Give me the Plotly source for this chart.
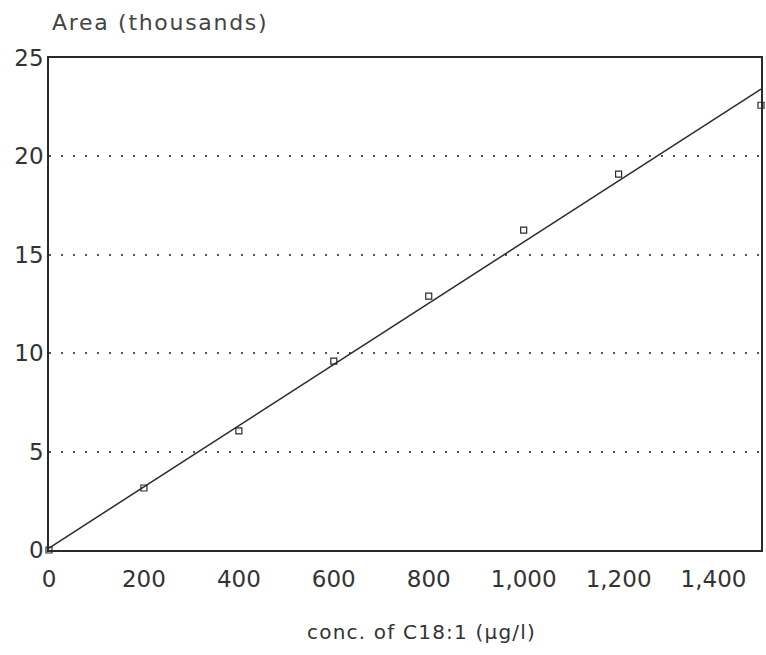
import plotly.graph_objects as go

# Data
conc = [0, 200, 400, 600, 800, 1000, 1200, 1500]
area = [0.0, 3.15, 6.05, 9.6, 12.9, 16.25, 19.1, 22.6]
fit_x = [0, 1500]
fit_y = [0.1, 23.42]
y_ticks = [0, 5, 10, 15, 20, 25]
x_ticks = [0, 200, 400, 600, 800, 1000, 1200, 1400]
x_tick_text = ["0", "200", "400", "600", "800", "1,000", "1,200", "1,400"]

FONT = "DejaVu Sans"
INK = "#2a2a2a"

fig = go.Figure()
fig.add_trace(go.Scatter(
    x=fit_x, y=fit_y, mode="lines",
    line=dict(color=INK, width=1.5), showlegend=False, hoverinfo="skip"))
fig.add_trace(go.Scatter(
    x=conc, y=area, mode="markers",
    marker=dict(symbol="square-open", size=6, color=INK, line=dict(width=1.2, color=INK)),
    showlegend=False, cliponaxis=False))

fig.update_layout(
    width=766, height=655,
    margin=dict(l=49, r=3, t=58, b=105),
    paper_bgcolor="white", plot_bgcolor="white",
    font=dict(family=FONT, color=INK),
    xaxis=dict(
        range=[0, 1500], tickvals=x_ticks, ticktext=x_tick_text,
        showgrid=False, zeroline=False, showline=True, linecolor=INK, linewidth=1.5,
        mirror=True, ticks="", tickfont=dict(size=23, family=FONT, color="#333"),
        ticklabelstandoff=8,
    ),
    yaxis=dict(
        range=[0, 25], tickvals=y_ticks,
        showgrid=True, gridcolor="#555", gridwidth=1.5, griddash="2px,10px",
        zeroline=False, showline=True, linecolor=INK, linewidth=1.5,
        mirror=True, ticks="", tickfont=dict(size=23, family=FONT, color="#333"),
        ticklabelstandoff=-1,
    ),
    annotations=[
        dict(text='<span style="letter-spacing:1.7px">Area (thousands)</span>',
             xref="paper", yref="paper",
             x=0.002, y=1.073, xanchor="left", yanchor="middle", showarrow=False,
             font=dict(size=22, family=FONT, color="#444")),
        dict(text='<span style="letter-spacing:1.2px">conc. of C18:1 (μg/l)</span>',
             xref="paper", yref="paper",
             x=(423 - 49) / 714, y=-(632 - 550) / 492, xanchor="center", yanchor="middle",
             showarrow=False, font=dict(size=20, family=FONT, color="#333")),
    ],
)

fig.write_html("out.html")
